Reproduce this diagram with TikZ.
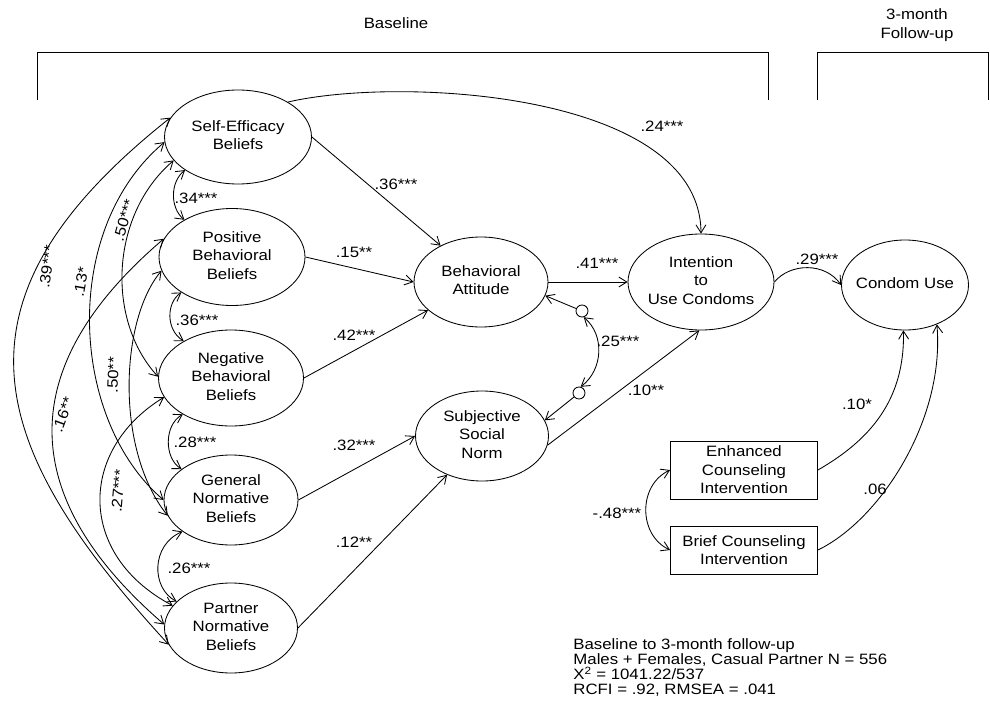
\documentclass[tikz,border=0pt]{standalone}
\usepackage{fontspec}
\setmainfont{Liberation Sans}[FakeStretch=1.12]
\usetikzlibrary{shapes.geometric,arrows.meta}

% centred multi-line text that does not widen its ellipse
\newcommand{\elltext}[1]{\makebox[0pt]{\begin{tabular}{@{}c@{}}#1\end{tabular}}}

\begin{document}
\begin{tikzpicture}[x=1pt,y=-1pt,line width=0.85pt,
  font=\fontsize{15}{18.5}\selectfont,
  latent/.style={ellipse,draw,inner sep=0pt},
  obsbox/.style={rectangle,draw,inner sep=1pt,minimum width=147pt,align=center},
  resid/.style={circle,draw,minimum size=12pt,inner sep=0pt},
  coef/.style={inner sep=0pt},
  tip/.tip={Straight Barb[length=8pt,width=10pt]},
  effect/.style={-tip},
  covar/.style={tip-tip}]

\useasboundingbox (0,0) rectangle (990,709);

% measurement occasions
\node (tbase) at (396,23) {Baseline};
\node[align=center] (tfollow) at (917,25) {3-month\\Follow-up};
\draw (37,100) -- (37,52) -- (768,52) -- (768,100);
\draw (817,100) -- (817,52) -- (988,52) -- (988,100);

% exogenous beliefs
\node[latent,minimum width=147pt,minimum height=94pt] (se) at (238,137) {\elltext{Self-Efficacy\\Beliefs}};
\node[latent,minimum width=146pt,minimum height=97pt] (pb) at (232,257) {\elltext{Positive\\Behavioral\\Beliefs}};
\node[latent,minimum width=145pt,minimum height=96pt] (nb) at (231,378) {\elltext{Negative\\Behavioral\\Beliefs}};
\node[latent,minimum width=134pt,minimum height=90pt] (gn) at (231,500) {\elltext{General\\Normative\\Beliefs}};
\node[latent,minimum width=133pt,minimum height=90pt] (pn) at (231,628) {\elltext{Partner\\Normative\\Beliefs}};

% mediators and outcomes
\node[latent,minimum width=134pt,minimum height=90pt] (ba) at (481,282) {\elltext{Behavioral\\Attitude}};
\node[latent,minimum width=133pt,minimum height=90pt] (ssn) at (482,436) {\elltext{Subjective\\Social\\Norm}};
\node[latent,minimum width=146pt,minimum height=96pt] (int) at (701,282) {\elltext{Intention\\to\\Use Condoms}};
\node[latent,minimum width=127pt,minimum height=90pt] (cu) at (905,285) {\elltext{Condom Use}};

% intervention conditions
\node[obsbox,minimum height=58pt] (enh) at (744,470) {Enhanced\\Counseling\\Intervention};
\node[obsbox,minimum height=48pt] (brf) at (744,550) {Brief Counseling\\Intervention};

% disturbances
\node[resid] (e1) at (582,311) {};
\node[resid] (e2) at (579,393) {};

% structural paths
\draw[effect] (se.east) -- (ba.138);
\draw[effect] (pb.east) -- (ba.west);
\draw[effect] (nb.east) -- (ba.208);
\draw[effect] (gn.east) -- (ssn.west);
\draw[effect] (pn.east) -- (ssn.228);
\draw[effect] (ba.east) -- (int.west);
\draw[effect] (ssn.352) -- (int.268);
\draw[effect] (se.35) .. controls (400,76) and (700,92) .. (int.north);
\draw[effect] (int.east) .. controls (790,263) and (825,262) .. (cu.west);
\draw[effect] (enh.east) .. controls (870,440) and (905,400) .. (cu.268);
\draw[effect] (brf.east) .. controls (880,520) and (945,420) .. (cu.309);
\draw[effect] (e1) -- (ba.348);
\draw[effect] (e2) -- (ssn.14);

% covariances
\draw[covar] (e1.-75) .. controls (605,335) and (603,370) .. (e2.75);
\draw[covar] (enh.west) .. controls (638,485) and (638,535) .. (brf.west);
\draw[covar] (se.212) .. controls (170,182) and (170,208) .. (pb.142);
\draw[covar] (pb.215) .. controls (166,303) and (166,330) .. (nb.142);
\draw[covar] (nb.217) .. controls (164,425) and (164,458) .. (gn.148);
\draw[covar] (gn.213) .. controls (151,545) and (151,588) .. (pn.154);
\draw[covar] (se.164) .. controls (-60,300) and (-15,445) .. (pn.195);
\draw[covar] (se.184) .. controls (60,230) and (70,420) .. (gn.180);
\draw[covar] (se.200) .. controls (110,215) and (106,320) .. (nb.179);
\draw[covar] (pb.165) .. controls (10,370) and (20,500) .. (pn.177);
\draw[covar] (pb.191) .. controls (120,320) and (115,450) .. (gn.194);
\draw[covar] (nb.196) .. controls (78,450) and (77,555) .. (pn.159);

% coefficients
\node[coef] (c1) at (396,184) {.36***};
\node[coef] (c2) at (354,252) {.15**};
\node[coef] (c3) at (354,335) {.42***};
\node[coef] (c4) at (354,445) {.32***};
\node[coef] (c5) at (354,542) {.12**};
\node[coef] (c6) at (597,263) {.41***};
\node[coef] (c7) at (618,341) {.25***};
\node[coef] (c8) at (646,390) {.10**};
\node[coef] (c9) at (662,126) {.24***};
\node[coef] (c10) at (817,259) {.29***};
\node[coef] (c11) at (857,404) {.10*};
\node[coef] (c12) at (875,489) {.06};
\node[coef] (c13) at (617,513) {-.48***};
\node[coef] (c14) at (196,198) {.34***};
\node[coef] (c15) at (197,320) {.36***};
\node[coef] (c16) at (195,442) {.28***};
\node[coef] (c17) at (189,568) {.26***};
\node[coef,rotate=82] (c18) at (47,267) {.39***};
\node[coef,rotate=80] (c19) at (81,282) {.13*};
\node[coef,rotate=74] (c20) at (124,220) {.50***};
\node[coef,rotate=88] (c21) at (113,375) {.50**};
\node[coef,rotate=70] (c22) at (63,415) {.16**};
\node[coef,rotate=85] (c23) at (118,491) {.27***};

% model summary
\node[anchor=north west,inner sep=0pt,align=left,font=\fontsize{15}{15}\selectfont] (fit) at (573,638)
  {Baseline to 3-month follow-up\\Males + Females, Casual Partner N = 556\\X\textsuperscript{2} = 1041.22/537\\RCFI = .92, RMSEA = .041};

\end{tikzpicture}
\end{document}
